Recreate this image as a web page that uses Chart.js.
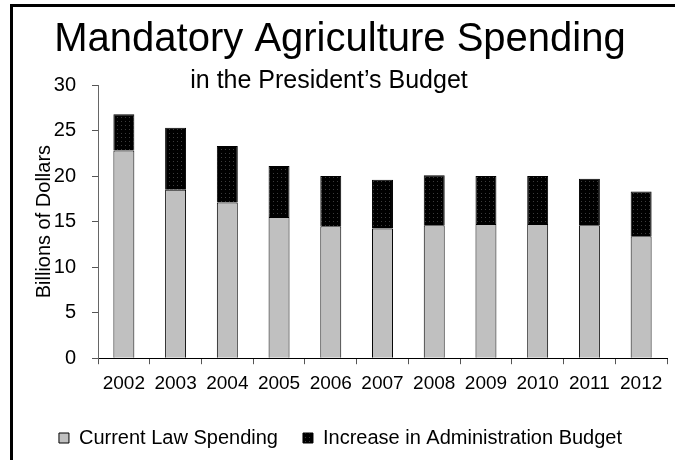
<!DOCTYPE html>
<html>
<head>
<meta charset="utf-8">
<script src="https://cdn.jsdelivr.net/npm/chart.js@4/dist/chart.umd.min.js"></script>
<style>
  html, body { margin: 0; padding: 0; background: #fff; }
  #wrap { width: 675px; height: 460px; position: relative; }
</style>
</head>
<body>
<div id="wrap"><canvas id="chart" width="675" height="460"></canvas></div>
<script>
// Mandatory agriculture spending, billions of dollars
const years = ['2002', '2003', '2004', '2005', '2006', '2007', '2008', '2009', '2010', '2011', '2012'];
const currentLaw = [22.8, 18.5, 17.1, 15.5, 14.5, 14.25, 14.6, 14.75, 14.75, 14.6, 13.4];
const adminIncrease = [4.0, 6.8, 6.2, 5.6, 5.5, 5.35, 5.5, 5.25, 5.25, 5.1, 4.9];
const yTicks = [0, 5, 10, 15, 20, 25, 30];

const FONT = 'Liberation Sans, Arial, sans-serif';

// black fill with a fine grey dot screen
function dotPattern() {
    const c = document.createElement('canvas');
    c.width = 4; c.height = 4;
    const g = c.getContext('2d');
    g.fillStyle = '#000';
    g.fillRect(0, 0, 4, 4);
    g.fillStyle = '#3c3c3c';
    g.fillRect(1, 1, 1, 1);
    return g.createPattern(c, 'repeat');
}

// outer frame + the two heading lines
const frameAndTitles = {
    id: 'frameAndTitles',
    afterDraw(chart) {
        const ctx = chart.ctx;
        ctx.save();
        ctx.fillStyle = '#000';
        ctx.fillRect(10, 4, 3, 456);
        ctx.fillRect(10, 4, 665, 3);
        ctx.textAlign = 'center';
        ctx.textBaseline = 'alphabetic';
        ctx.font = '40px ' + FONT;
        ctx.fillText('Mandatory Agriculture Spending', 340, 51);
        ctx.font = '25px ' + FONT;
        ctx.fillText('in the President\u2019s Budget', 329, 88);
        ctx.restore();
    }
};

const ctx = document.getElementById('chart').getContext('2d');
new Chart(ctx, {
    type: 'bar',
    data: {
        labels: years,
        datasets: [
            {
                label: 'Current Law Spending',
                data: currentLaw,
                backgroundColor: '#c0c0c0',
                borderColor: '#000',
                borderWidth: 1
            },
            {
                label: 'Increase in Administration Budget',
                data: adminIncrease,
                backgroundColor: dotPattern(),
                borderColor: '#000',
                borderWidth: 1
            }
        ]
    },
    plugins: [frameAndTitles],
    options: {
        responsive: false,
        animation: false,
        layout: { padding: { top: 85, left: 14, right: 8, bottom: 2 } },
        datasets: {
            bar: { categoryPercentage: 1, barPercentage: 0.405 }
        },
        scales: {
            x: {
                stacked: true,
                grid: { drawOnChartArea: false, drawTicks: true, tickLength: 6, color: '#555' },
                border: { color: '#000', width: 1 },
                ticks: { color: '#000', padding: 8, font: { family: FONT, size: 19 }, maxRotation: 0 }
            },
            y: {
                stacked: true,
                min: 0,
                max: 30,
                afterBuildTicks(scale) {
                    scale.ticks = yTicks.map(v => ({ value: v }));
                },
                afterFit(scale) { scale.width = 84; },
                grid: { drawOnChartArea: false, drawTicks: true, tickLength: 6, color: '#555' },
                border: { color: '#666', width: 1 },
                ticks: { color: '#000', padding: 16, font: { family: FONT, size: 20 } },
                title: {
                    display: true,
                    text: 'Billions of Dollars',
                    color: '#000',
                    font: { family: FONT, size: 20, lineHeight: 1 },
                    padding: { top: 20, bottom: 0 }
                }
            }
        },
        plugins: {
            title: { display: false },
            tooltip: { enabled: false },
            legend: {
                position: 'bottom',
                labels: {
                    color: '#000',
                    boxWidth: 10,
                    boxHeight: 10,
                    padding: 25,
                    font: { family: FONT, size: 20 }
                }
            }
        }
    }
});
</script>
</body>
</html>
